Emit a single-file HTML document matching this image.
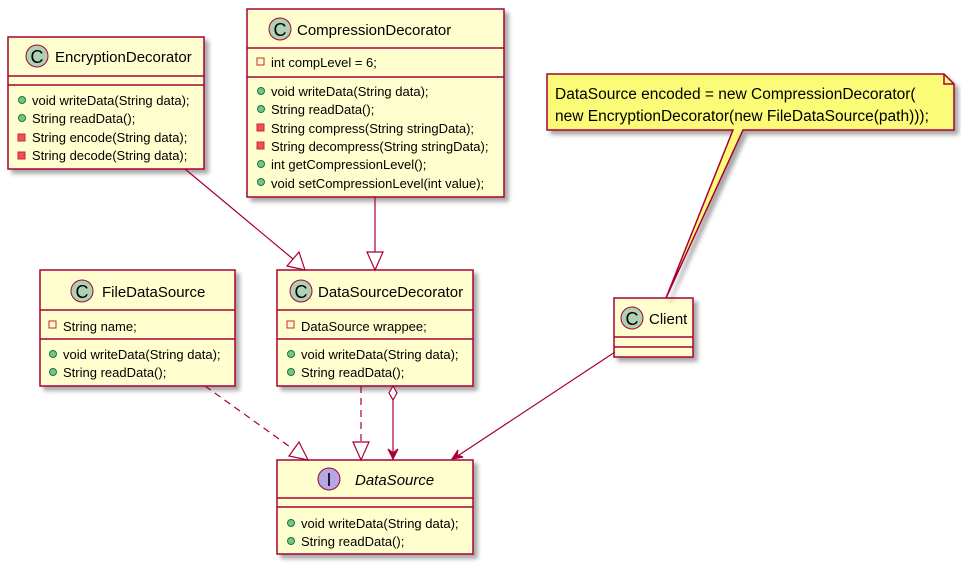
<!DOCTYPE html>
<html><head><meta charset="utf-8"><style>
body{margin:0;background:#fff}
svg text{font-family:"Liberation Sans",sans-serif;fill:#000}
</style></head><body>
<svg width="961" height="570" viewBox="0 0 961 570" xmlns="http://www.w3.org/2000/svg">
<defs>
<filter id="sh" x="-10%" y="-10%" width="130%" height="130%"><feGaussianBlur in="SourceAlpha" stdDeviation="2"/><feOffset dx="4" dy="4"/><feComponentTransfer><feFuncA type="linear" slope="0.35"/></feComponentTransfer><feMerge><feMergeNode/><feMergeNode in="SourceGraphic"/></feMerge></filter>
</defs>
<g stroke="#A80036" stroke-width="1.5" fill="#FEFECE">
<rect x="8" y="37" width="196" height="132" filter="url(#sh)"/>
<line x1="8" y1="76" x2="204" y2="76"/><line x1="8" y1="85" x2="204" y2="85"/>
<rect x="247" y="9" width="257" height="188" filter="url(#sh)"/>
<line x1="247" y1="48" x2="504" y2="48"/><line x1="247" y1="77" x2="504" y2="77"/>
<rect x="40" y="270" width="195" height="116" filter="url(#sh)"/>
<line x1="40" y1="310" x2="235" y2="310"/><line x1="40" y1="339" x2="235" y2="339"/>
<rect x="277" y="270" width="196" height="116" filter="url(#sh)"/>
<line x1="277" y1="310" x2="473" y2="310"/><line x1="277" y1="339" x2="473" y2="339"/>
<rect x="277" y="460" width="196" height="94" filter="url(#sh)"/>
<line x1="277" y1="498" x2="473" y2="498"/><line x1="277" y1="507" x2="473" y2="507"/>
<rect x="614" y="298" width="79" height="59" filter="url(#sh)"/>
<line x1="614" y1="337" x2="693" y2="337"/><line x1="614" y1="347" x2="693" y2="347"/>
<path d="M547 74 H944 L954 84 V130 H743 L666 298 L733 130 H547 Z" fill="#FBFB77" filter="url(#sh)"/>
<path d="M944 74 V84 H954" fill="none"/>
</g>
<g stroke="#A80036" stroke-width="1.2" fill="none">
<line x1="185" y1="169" x2="293" y2="259"/>
<polygon points="305,270 287,266 299,252" fill="#fff"/>
<line x1="375" y1="197" x2="375" y2="252"/>
<polygon points="375,270 367,252 383,252" fill="#fff"/>
<line x1="205" y1="386" x2="293" y2="449" stroke-dasharray="7,5"/>
<polygon points="308,460 289,456 299,442" fill="#fff"/>
<line x1="361" y1="386" x2="361" y2="442" stroke-dasharray="7,5"/>
<polygon points="361,460 353,442 369,442" fill="#fff"/>
<polygon points="393,386 389,393 393,400 397,393" fill="#fff"/>
<line x1="393" y1="400" x2="393" y2="459"/>
<path d="M388 449 L393 459 L398 449 L393 453 Z" fill="#A80036"/>
<line x1="615" y1="352" x2="453" y2="459"/>
<path d="M458 450 L452 459 L463 457 L457 455 Z" fill="#A80036"/>
</g>
<g stroke="#A80036" stroke-width="1">
<circle cx="37" cy="56" r="11" fill="#ADD1B2"/>
<circle cx="280" cy="29" r="11" fill="#ADD1B2"/>
<circle cx="82" cy="291" r="11" fill="#ADD1B2"/>
<circle cx="301" cy="291" r="11" fill="#ADD1B2"/>
<circle cx="329" cy="479" r="11" fill="#B4A7E5"/>
<circle cx="632" cy="318" r="11" fill="#ADD1B2"/>
</g>
<g font-size="18" text-anchor="middle">
<text x="37" y="63">C</text><text x="280" y="36">C</text><text x="82" y="298">C</text><text x="301" y="298">C</text><text x="329" y="486">I</text><text x="632" y="325">C</text>
</g>
<g font-size="15">
<text x="55" y="62">EncryptionDecorator</text>
<text x="297" y="35">CompressionDecorator</text>
<text x="102" y="297">FileDataSource</text>
<text x="318" y="297">DataSourceDecorator</text>
<text x="355" y="485" font-style="italic">DataSource</text>
<text x="649" y="324">Client</text>
</g>
<g font-size="15.5">
<text x="555" y="99">DataSource encoded = new CompressionDecorator(</text>
<text x="555" y="121">new EncryptionDecorator(new FileDataSource(path)));</text>
</g>
<g fill="#84BE84" stroke="#038048" stroke-width="1">
<circle cx="22" cy="100" r="3.5"/><circle cx="22" cy="118" r="3.5"/>
<circle cx="261" cy="91" r="3.5"/><circle cx="261" cy="109" r="3.5"/><circle cx="261" cy="164" r="3.5"/><circle cx="261" cy="182" r="3.5"/>
<circle cx="53" cy="354" r="3.5"/><circle cx="53" cy="372" r="3.5"/>
<circle cx="291" cy="354" r="3.5"/><circle cx="291" cy="372" r="3.5"/>
<circle cx="291" cy="523" r="3.5"/><circle cx="291" cy="541" r="3.5"/>
</g>
<g fill="#F24D5C" stroke="#C82930" stroke-width="1">
<rect x="18" y="134" width="7" height="7"/><rect x="18" y="152" width="7" height="7"/>
<rect x="257" y="124" width="7" height="7"/><rect x="257" y="142" width="7" height="7"/>
</g>
<g fill="none" stroke="#C82930" stroke-width="1">
<rect x="257" y="58" width="7" height="7"/>
<rect x="49" y="321" width="7" height="7"/>
<rect x="287" y="321" width="7" height="7"/>
</g>
<g font-size="13">
<text x="32" y="105">void writeData(String data);</text>
<text x="32" y="123">String readData();</text>
<text x="32" y="142">String encode(String data);</text>
<text x="32" y="160">String decode(String data);</text>
<text x="271" y="67">int compLevel = 6;</text>
<text x="271" y="96">void writeData(String data);</text>
<text x="271" y="114">String readData();</text>
<text x="271" y="133">String compress(String stringData);</text>
<text x="271" y="151">String decompress(String stringData);</text>
<text x="271" y="169">int getCompressionLevel();</text>
<text x="271" y="188">void setCompressionLevel(int value);</text>
<text x="63" y="331">String name;</text>
<text x="63" y="359">void writeData(String data);</text>
<text x="63" y="377">String readData();</text>
<text x="301" y="331">DataSource wrappee;</text>
<text x="301" y="359">void writeData(String data);</text>
<text x="301" y="377">String readData();</text>
<text x="301" y="528">void writeData(String data);</text>
<text x="301" y="546">String readData();</text>
</g>
</svg>
</body></html>
